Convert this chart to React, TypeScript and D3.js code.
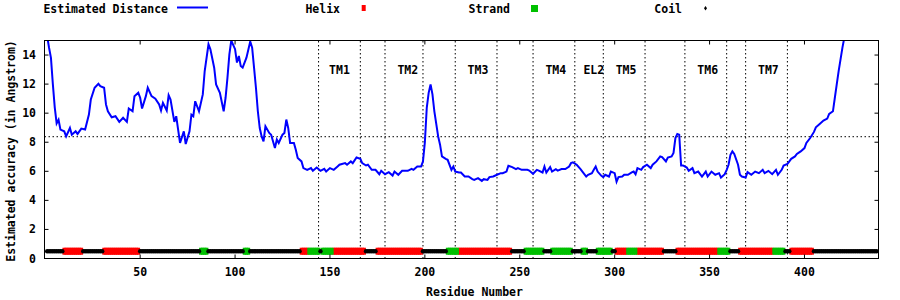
import React from "react";
import * as d3 from "d3";

// Estimated distance per residue
const distance: [number, number][] = [
  [1,15.3],[2,14.5],[3,13.8],[4,12.0],[5,10.4],[6,9.3],[7,9.55],[8,8.87],[10,8.75],[11,8.4],[13,8.98],[14,8.52],[16,8.75],[17,8.57],[19,8.94],[21,8.87],[23,9.9],[24,10.94],[26,11.75],[28,12.02],[29,11.86],[31,11.75],[32,10.6],[33,10.13],[35,9.72],[37,9.79],[39,9.4],[41,9.68],[43,9.4],[44,10.32],[46,10.13],[47,11.17],[49,11.4],[50,11.06],[51,10.32],[53,11.17],[54,11.75],[56,11.17],[58,11.0],[60,10.6],[61,10.18],[62,10.71],[64,10.18],[65,11.24],[66,10.94],[68,9.4],[69,9.79],[70,8.87],[71,7.95],[73,8.75],[74,7.88],[76,8.75],[77,9.9],[78,9.79],[79,10.82],[81,10.13],[83,11.29],[84,12.9],[86,14.74],[87,14.4],[89,13.13],[90,11.98],[92,11.4],[94,10.13],[95,11.06],[96,12.44],[97,14.05],[98,15.0],[100,14.4],[101,13.48],[102,13.93],[103,13.24],[104,13.13],[106,13.82],[108,14.93],[109,14.51],[110,13.13],[111,11.75],[112,10.13],[113,8.98],[114,8.4],[115,8.06],
  [116,9.1],[118,8.64],[119,8.52],[121,7.6],[122,8.18],[123,7.95],[125,8.52],[126,8.64],[127,9.56],[128,8.98],[129,7.95],[131,7.95],[132,7.48],[133,6.91],[135,6.68],[136,6.22],[138,6.1],[140,6.22],[141,6.03],[143,6.26],[145,6.03],[147,6.17],[148,5.98],[150,6.22],[152,6.1],[154,6.33],[155,6.45],[158,6.56],[159,6.45],[161,6.68],[162,6.56],[164,6.95],[166,6.86],[167,6.56],[169,6.4],[170,6.45],[172,6.1],[174,6.1],[176,5.8],[177,6.03],[179,5.8],[181,5.94],[183,5.71],[184,5.98],[186,5.76],[188,6.03],[191,6.03],[193,6.17],[194,6.1],[196,6.33],[198,6.33],[199,6.68],[200,8.0],[201,10.37],[202,11.4],[203,11.98],[204,11.29],[205,10.13],[207,8.4],[208,7.83],[209,7.02],[211,6.86],[212,6.79],[214,6.1],[215,6.33],[216,5.98],[218,5.92],[219,5.92],[221,5.64],[223,5.64],[225,5.46],[226,5.41],[228,5.53],[230,5.34],[231,5.46],[233,5.41],[234,5.6],[236,5.64],[238,5.76],[240,5.87],[241,5.87],[243,5.98],[244,6.38],[246,6.29],[248,6.15],[249,6.22],[251,6.1],[254,6.1],[255,6.05],[257,5.83],[259,6.1],[260,6.05],[262,5.92],[263,6.33],[264,5.92],[266,6.29],[267,5.98],[269,6.15],[270,6.05],[272,6.15],[274,6.15],[276,6.33],[277,6.56],[278,6.61],[280,6.45],[282,6.15],[283,5.98],[285,5.64],[286,5.76],[288,5.87],[289,6.1],[290,6.33],[291,5.98],[293,5.69],[294,5.6],[295,5.76],[297,5.64],[298,5.98],[300,5.87],[301,5.29],[302,5.6],[304,5.64],[305,5.76],[307,5.76],[309,5.92],[310,5.98],[311,5.8],[312,6.22],[314,6.1],[315,6.29],[317,6.45],[319,6.22],[320,6.45],[322,6.68],[324,7.02],[325,6.98],[327,6.68],[328,6.95],[330,7.02],[331,7.26],[332,8.29],[333,8.57],[334,8.52],[335,6.4],[336,6.4],[338,6.26],[339,6.03],[341,6.22],[342,5.87],[344,5.98],[346,5.64],[348,5.98],[349,5.64],[351,5.98],[353,5.76],[355,5.87],[356,5.57],[358,5.8],[359,6.1],[360,6.45],[361,7.14],[362,7.37],[363,7.19],[365,6.45],[366,5.76],[367,5.64],[369,5.57],[370,5.94],[372,5.76],[374,5.98],[376,5.87],[378,6.1],[379,5.87],[381,6.03],[383,5.8],[385,6.1],[386,5.76],[388,6.1],[389,6.4],[391,6.5],[393,6.86],[395,7.02],[396,7.19],[398,7.37],[400,7.6],[401,7.95],[403,8.29],[405,8.71],[406,9.03],[408,9.26],[410,9.49],[412,9.63],[413,9.95],[415,10.13],[416,11.06],[417,11.98],[418,12.9],[419,13.7],[420,14.51],[421,15.2],[422,16.0],
];

// Secondary structure segments (H = helix, E = strand, C = coil)
const ssStart = [1,10,20,31,50,82,86,105,108,135,139,145,146,152,169,175,199,212,218,246,253,263,267,278,283,286,291,299,301,307,312,326,333,355,361,366,384,390,393,405];
const ssEnd   = [9,19,30,49,81,85,104,107,134,138,144,145,151,168,174,198,211,217,245,252,262,266,277,282,285,290,298,300,306,311,325,332,354,360,365,383,389,392,404,438];
const ssType  = ["C","H","C","H","C","E","C","E","C","H","E","C","E","H","C","H","C","E","H","C","E","C","E","C","E","C","E","C","H","E","H","C","H","E","C","H","E","C","H","C"];

const boundaries = [144,166,179,199,216,238,257,279,294,316,337,359,369,391];
const regionLabels = ["TM1","TM2","TM3","TM4","EL2","TM5","TM6","TM7"];
const regionLabelPos = [155,191,228,269,289,306,349,381];
const thresholdValue = 8.38;
const labelValue = 13;
const xTicks = [50,100,150,200,250,300,350,400];
const yTicks = [0,2,4,6,8,10,12,14];
const ssLevel = 0.5;

const FONT = "'DejaVu Sans Mono', monospace";
const FS = 11.5;
const RED = "#ff0000";
const GREEN = "#00c000";
const BLUE = "#0000ff";

export default function App() {
  const x = d3.scaleLinear().domain([-0.4, 439]).range([44.5, 878.5]);
  const y = d3.scaleLinear().domain([0, 15]).range([258.5, 40.5]);
  const [x0, x1] = x.range();
  const [y0, y1] = y.range();

  const line = d3.line<[number, number]>().x(d => x(d[0])).y(d => y(d[1]));

  const residues = (t: string) => {
    const out: number[] = [];
    ssType.forEach((tp, i) => {
      if (tp === t) for (let r = ssStart[i]; r <= ssEnd[i]; r++) out.push(r);
    });
    return out;
  };
  const helix = residues("H");
  const strand = residues("E");
  const coil = residues("C");
  const ys = y(ssLevel);

  const textStyle = { fontFamily: FONT, fontSize: FS, fontWeight: "bold" as const, fill: "#000" };

  return (
    <svg width={900} height={300} style={{ position: "absolute", left: 0, top: 0, background: "#fff" }}>
      <defs>
        <clipPath id="plotclip">
          <rect x={x0} y={y1} width={x1 - x0} height={y0 - y1} />
        </clipPath>
      </defs>
      <rect x={0} y={0} width={900} height={300} fill="#fff" />

      {/* dotted reference lines */}
      {boundaries.map((b, i) => (
        <line key={"b" + i} x1={x(b)} x2={x(b)} y1={y0} y2={y1} stroke="#000" strokeWidth={1} strokeDasharray="1.5,2.5" />
      ))}
      <line x1={x0} x2={x1} y1={y(thresholdValue)} y2={y(thresholdValue)} stroke="#000" strokeWidth={1} strokeDasharray="1.5,2.5" />

      {/* region labels */}
      {regionLabels.map((l, i) => (
        <text key={"l" + i} x={x(regionLabelPos[i])} y={y(labelValue) + 4} textAnchor="middle" {...textStyle}>{l}</text>
      ))}

      {/* secondary structure */}
      {helix.map(r => (
        <rect key={"h" + r} x={x(r) - 1.8} y={ys - 3.5} width={3.6} height={7} fill={RED} />
      ))}
      {strand.map(r => (
        <rect key={"e" + r} x={x(r) - 1.8} y={ys - 3.5} width={3.6} height={7} fill={GREEN} />
      ))}
      {coil.map(r => (
        <circle key={"c" + r} cx={x(r)} cy={ys} r={2.2} fill="#000" />
      ))}

      {/* distance curve */}
      <g clipPath="url(#plotclip)">
        <path d={line(distance) || ""} fill="none" stroke={BLUE} strokeWidth={2} strokeLinejoin="miter" />
      </g>

      {/* frame */}
      <rect x={x0} y={y1} width={x1 - x0} height={y0 - y1} fill="none" stroke="#000" strokeWidth={1} />

      {/* ticks */}
      {yTicks.map(t => (
        <g key={"yt" + t}>
          <line x1={x0} x2={x0 + 4} y1={y(t)} y2={y(t)} stroke="#000" />
          <line x1={x1} x2={x1 - 4} y1={y(t)} y2={y(t)} stroke="#000" />
          <text x={36} y={y(t) + 4} textAnchor="end" {...textStyle}>{t}</text>
        </g>
      ))}
      {xTicks.map(t => (
        <g key={"xt" + t}>
          <line x1={x(t)} x2={x(t)} y1={y0} y2={y0 - 4} stroke="#000" />
          <line x1={x(t)} x2={x(t)} y1={y1} y2={y1 + 4} stroke="#000" />
          <text x={x(t)} y={276} textAnchor="middle" {...textStyle}>{t}</text>
        </g>
      ))}

      {/* axis labels */}
      <text x={474.5} y={295.5} textAnchor="middle" {...textStyle}>Residue Number</text>
      <text transform="translate(15,151) rotate(-90)" textAnchor="middle" {...textStyle}>Estimated accuracy (in Angstrom)</text>

      {/* legend */}
      <text x={168} y={13} textAnchor="end" {...textStyle}>Estimated Distance</text>
      <line x1={177} x2={208} y1={7.5} y2={7.5} stroke={BLUE} strokeWidth={2} />
      <text x={340} y={13} textAnchor="end" {...textStyle}>Helix</text>
      <rect x={361.7} y={5} width={4} height={6} fill={RED} />
      <text x={510} y={13} textAnchor="end" {...textStyle}>Strand</text>
      <rect x={531} y={5} width={7} height={7} fill={GREEN} />
      <text x={682} y={13} textAnchor="end" {...textStyle}>Coil</text>
      <path d="M705.5,6 L707,8.3 L705.5,10.6 L704,8.3 Z" fill="#000" />
    </svg>
  );
}
